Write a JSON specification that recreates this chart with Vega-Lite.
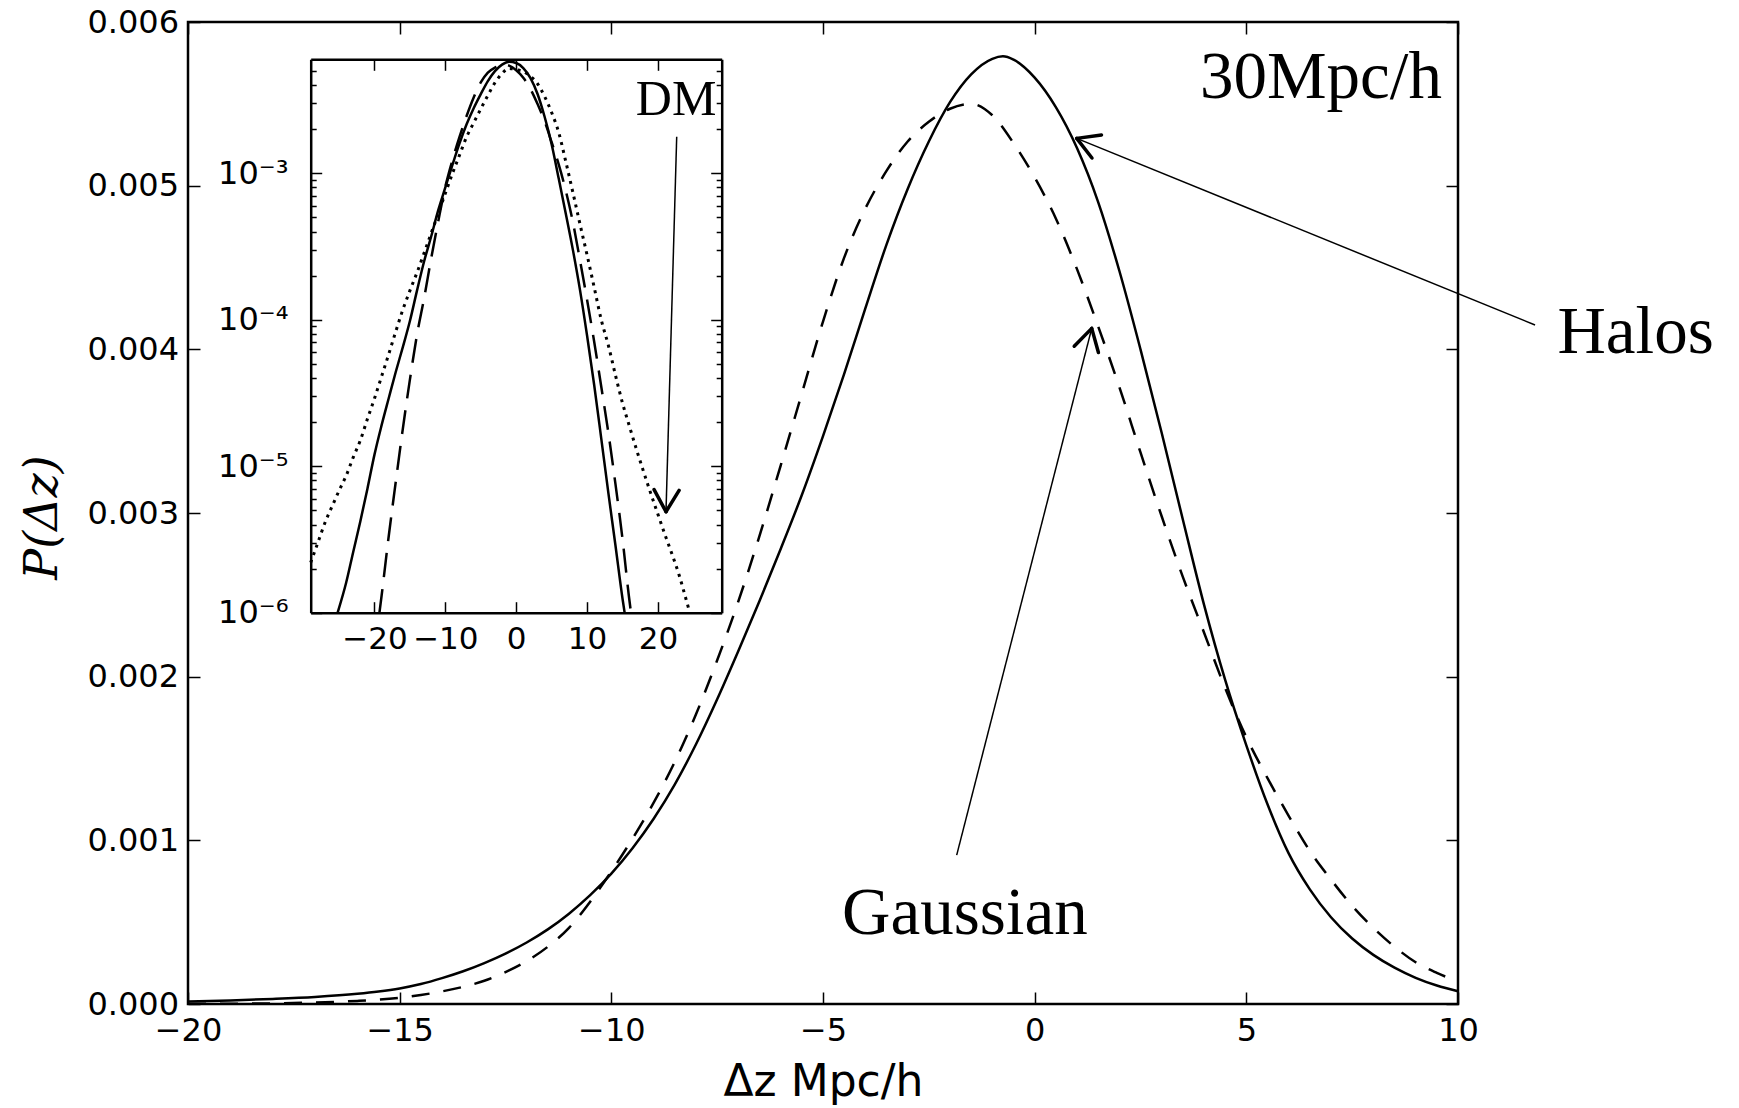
{
  "$schema": "https://vega.github.io/schema/vega-lite/v6.json",
  "width": 1270,
  "height": 982,
  "autosize": {"type": "none"},
  "padding": {"left": 188, "top": 22, "right": 281, "bottom": 104},
  "background": "white",
  "config": {
    "view": {"stroke": "black", "strokeWidth": 2.5},
    "font": "DejaVu Sans",
    "axis": {"grid": false, "tickColor": "black", "tickWidth": 1.5, "domainColor": "black", "domainWidth": 2.5, "labelColor": "black", "labelFont": "DejaVu Sans", "labelFlush": false, "labelOverlap": false, "titleColor": "black"}
  },
  "datasets": {
    "curves": [
      {"s":"mH","x":-20,"p":0.000015},{"s":"mH","x":-19,"p":0.000022},{"s":"mH","x":-18,"p":0.000031},{"s":"mH","x":-17,"p":0.000043},{"s":"mH","x":-16,"p":0.000062},{"s":"mH","x":-15.5,"p":0.000076},{"s":"mH","x":-15,"p":0.000095},{"s":"mH","x":-14.5,"p":0.000122},{"s":"mH","x":-14,"p":0.000158},{"s":"mH","x":-13.5,"p":0.000200},{"s":"mH","x":-13,"p":0.000250},{"s":"mH","x":-12.5,"p":0.000308},{"s":"mH","x":-12,"p":0.000376},{"s":"mH","x":-11.5,"p":0.000456},{"s":"mH","x":-11,"p":0.000552},{"s":"mH","x":-10.5,"p":0.000665},{"s":"mH","x":-10,"p":0.000797},{"s":"mH","x":-9.5,"p":0.000952},{"s":"mH","x":-9,"p":0.001132},{"s":"mH","x":-8.5,"p":0.001342},{"s":"mH","x":-8,"p":0.001587},{"s":"mH","x":-7.5,"p":0.001862},{"s":"mH","x":-7,"p":0.002157},{"s":"mH","x":-6.5,"p":0.002462},{"s":"mH","x":-6,"p":0.002780},{"s":"mH","x":-5.5,"p":0.003110},{"s":"mH","x":-5,"p":0.003470},{"s":"mH","x":-4.5,"p":0.003850},{"s":"mH","x":-4,"p":0.004250},{"s":"mH","x":-3.5,"p":0.004640},{"s":"mH","x":-3,"p":0.004980},{"s":"mH","x":-2.5,"p":0.005270},{"s":"mH","x":-2,"p":0.005510},{"s":"mH","x":-1.5,"p":0.005680},{"s":"mH","x":-1,"p":0.005775},{"s":"mH","x":-0.75,"p":0.005790},{"s":"mH","x":-0.5,"p":0.005770},{"s":"mH","x":0,"p":0.005660},{"s":"mH","x":0.5,"p":0.005480},{"s":"mH","x":1,"p":0.005230},{"s":"mH","x":1.5,"p":0.004900},{"s":"mH","x":2,"p":0.004480},{"s":"mH","x":2.5,"p":0.004000},{"s":"mH","x":3,"p":0.003490},{"s":"mH","x":3.5,"p":0.002960},{"s":"mH","x":4,"p":0.002440},{"s":"mH","x":4.5,"p":0.001980},{"s":"mH","x":5,"p":0.001580},{"s":"mH","x":5.5,"p":0.001220},{"s":"mH","x":6,"p":0.000920},{"s":"mH","x":6.5,"p":0.000700},{"s":"mH","x":7,"p":0.000530},{"s":"mH","x":7.5,"p":0.000400},{"s":"mH","x":8,"p":0.000300},{"s":"mH","x":8.5,"p":0.000222},{"s":"mH","x":9,"p":0.000160},{"s":"mH","x":9.5,"p":0.000113},{"s":"mH","x":10,"p":0.000078},
      {"s":"mG","x":-20,"p":0.000001},{"s":"mG","x":-19,"p":0.000002},{"s":"mG","x":-18,"p":0.000004},{"s":"mG","x":-17,"p":0.000009},{"s":"mG","x":-16,"p":0.000019},{"s":"mG","x":-15,"p":0.000038},{"s":"mG","x":-14.5,"p":0.000055},{"s":"mG","x":-14,"p":0.000077},{"s":"mG","x":-13.5,"p":0.000105},{"s":"mG","x":-13,"p":0.000142},{"s":"mG","x":-12.5,"p":0.000195},{"s":"mG","x":-12,"p":0.000262},{"s":"mG","x":-11.5,"p":0.000350},{"s":"mG","x":-11,"p":0.000465},{"s":"mG","x":-10.5,"p":0.000625},{"s":"mG","x":-10,"p":0.000810},{"s":"mG","x":-9.5,"p":0.001010},{"s":"mG","x":-9,"p":0.001230},{"s":"mG","x":-8.5,"p":0.001480},{"s":"mG","x":-8,"p":0.001770},{"s":"mG","x":-7.5,"p":0.002100},{"s":"mG","x":-7,"p":0.002460},{"s":"mG","x":-6.5,"p":0.002860},{"s":"mG","x":-6,"p":0.003290},{"s":"mG","x":-5.5,"p":0.003730},{"s":"mG","x":-5,"p":0.004170},{"s":"mG","x":-4.5,"p":0.004560},{"s":"mG","x":-4,"p":0.004860},{"s":"mG","x":-3.5,"p":0.005090},{"s":"mG","x":-3,"p":0.005270},{"s":"mG","x":-2.5,"p":0.005390},{"s":"mG","x":-2,"p":0.005470},{"s":"mG","x":-1.5,"p":0.005500},{"s":"mG","x":-1,"p":0.005430},{"s":"mG","x":-0.5,"p":0.005260},{"s":"mG","x":0,"p":0.005050},{"s":"mG","x":0.5,"p":0.004800},{"s":"mG","x":1,"p":0.004490},{"s":"mG","x":1.5,"p":0.004140},{"s":"mG","x":2,"p":0.003770},{"s":"mG","x":2.5,"p":0.003370},{"s":"mG","x":3,"p":0.002980},{"s":"mG","x":3.5,"p":0.002610},{"s":"mG","x":4,"p":0.002270},{"s":"mG","x":4.5,"p":0.001930},{"s":"mG","x":5,"p":0.001630},{"s":"mG","x":5.5,"p":0.001380},{"s":"mG","x":6,"p":0.001150},{"s":"mG","x":6.5,"p":0.000935},{"s":"mG","x":7,"p":0.000760},{"s":"mG","x":7.5,"p":0.000600},{"s":"mG","x":8,"p":0.000465},{"s":"mG","x":8.5,"p":0.000350},{"s":"mG","x":9,"p":0.000255},{"s":"mG","x":9.5,"p":0.000190},{"s":"mG","x":10,"p":0.000137},
      {"s":"iH","x":-25.2,"p":0.0000010},{"s":"iH","x":-24,"p":0.0000016},{"s":"iH","x":-23,"p":0.0000026},{"s":"iH","x":-22,"p":0.0000042},{"s":"iH","x":-21,"p":0.0000070},{"s":"iH","x":-20,"p":0.000012},{"s":"iH","x":-19,"p":0.000019},{"s":"iH","x":-18,"p":0.000029},{"s":"iH","x":-17,"p":0.000044},{"s":"iH","x":-16,"p":0.000065},{"s":"iH","x":-15,"p":0.000098},{"s":"iH","x":-14,"p":0.000158},{"s":"iH","x":-13,"p":0.00025},{"s":"iH","x":-12,"p":0.00037},{"s":"iH","x":-11,"p":0.00056},{"s":"iH","x":-10,"p":0.00080},{"s":"iH","x":-9,"p":0.00114},{"s":"iH","x":-8,"p":0.00160},{"s":"iH","x":-7,"p":0.00216},{"s":"iH","x":-6,"p":0.00278},{"s":"iH","x":-5,"p":0.00347},{"s":"iH","x":-4,"p":0.00426},{"s":"iH","x":-3,"p":0.00498},{"s":"iH","x":-2,"p":0.00552},{"s":"iH","x":-1,"p":0.00578},{"s":"iH","x":0,"p":0.00566},{"s":"iH","x":1,"p":0.00523},{"s":"iH","x":2,"p":0.00448},{"s":"iH","x":3,"p":0.00349},{"s":"iH","x":4,"p":0.00244},{"s":"iH","x":5,"p":0.00158},{"s":"iH","x":6,"p":0.00092},{"s":"iH","x":7,"p":0.00053},{"s":"iH","x":8,"p":0.00030},{"s":"iH","x":9,"p":0.00016},{"s":"iH","x":10,"p":0.000078},{"s":"iH","x":11,"p":0.000036},{"s":"iH","x":12,"p":0.0000155},{"s":"iH","x":13,"p":0.0000066},{"s":"iH","x":14,"p":0.0000029},{"s":"iH","x":15,"p":0.00000125},{"s":"iH","x":15.3,"p":0.0000010},
      {"s":"iG","x":-19.3,"p":0.0000010},{"s":"iG","x":-19,"p":0.0000013},{"s":"iG","x":-18,"p":0.0000033},{"s":"iG","x":-17,"p":0.0000078},{"s":"iG","x":-16,"p":0.000018},{"s":"iG","x":-15,"p":0.000039},{"s":"iG","x":-14,"p":0.000079},{"s":"iG","x":-13,"p":0.00014},{"s":"iG","x":-12,"p":0.000262},{"s":"iG","x":-11,"p":0.00047},{"s":"iG","x":-10,"p":0.00081},{"s":"iG","x":-9,"p":0.00123},{"s":"iG","x":-8,"p":0.00177},{"s":"iG","x":-7,"p":0.00246},{"s":"iG","x":-6,"p":0.00329},{"s":"iG","x":-5,"p":0.00417},{"s":"iG","x":-4,"p":0.00486},{"s":"iG","x":-3,"p":0.00527},{"s":"iG","x":-2,"p":0.00547},{"s":"iG","x":-1.5,"p":0.00550},{"s":"iG","x":-1,"p":0.00543},{"s":"iG","x":0,"p":0.00505},{"s":"iG","x":1,"p":0.00449},{"s":"iG","x":2,"p":0.00377},{"s":"iG","x":3,"p":0.00298},{"s":"iG","x":4,"p":0.00227},{"s":"iG","x":5,"p":0.00163},{"s":"iG","x":6,"p":0.00115},{"s":"iG","x":7,"p":0.00076},{"s":"iG","x":8,"p":0.000465},{"s":"iG","x":9,"p":0.000255},{"s":"iG","x":10,"p":0.000137},{"s":"iG","x":11,"p":0.000071},{"s":"iG","x":12,"p":0.000035},{"s":"iG","x":13,"p":0.000017},{"s":"iG","x":14,"p":0.0000076},{"s":"iG","x":15,"p":0.0000032},{"s":"iG","x":15.9,"p":0.0000013},{"s":"iG","x":16.2,"p":0.0000010},
      {"s":"iD","x":-29,"p":0.0000022},{"s":"iD","x":-28,"p":0.0000030},{"s":"iD","x":-27,"p":0.0000041},{"s":"iD","x":-26,"p":0.0000053},{"s":"iD","x":-25,"p":0.0000068},{"s":"iD","x":-24,"p":0.0000086},{"s":"iD","x":-23,"p":0.0000115},{"s":"iD","x":-22,"p":0.000015},{"s":"iD","x":-21,"p":0.000021},{"s":"iD","x":-20,"p":0.000029},{"s":"iD","x":-19,"p":0.000041},{"s":"iD","x":-18,"p":0.000058},{"s":"iD","x":-17,"p":0.000083},{"s":"iD","x":-16,"p":0.000117},{"s":"iD","x":-15,"p":0.000158},{"s":"iD","x":-14,"p":0.00021},{"s":"iD","x":-13,"p":0.000285},{"s":"iD","x":-12,"p":0.00039},{"s":"iD","x":-11,"p":0.00053},{"s":"iD","x":-10,"p":0.00073},{"s":"iD","x":-9,"p":0.000995},{"s":"iD","x":-8,"p":0.00133},{"s":"iD","x":-7,"p":0.00177},{"s":"iD","x":-6,"p":0.00221},{"s":"iD","x":-5,"p":0.00275},{"s":"iD","x":-4,"p":0.0034},{"s":"iD","x":-3,"p":0.00415},{"s":"iD","x":-2,"p":0.0048},{"s":"iD","x":-1,"p":0.0052},{"s":"iD","x":0,"p":0.0051},{"s":"iD","x":1,"p":0.00495},{"s":"iD","x":2,"p":0.0046},{"s":"iD","x":3,"p":0.0041},{"s":"iD","x":4,"p":0.00335},{"s":"iD","x":5,"p":0.0026},{"s":"iD","x":6,"p":0.0019},{"s":"iD","x":7,"p":0.0012},{"s":"iD","x":8,"p":0.00074},{"s":"iD","x":9,"p":0.00045},{"s":"iD","x":10,"p":0.000277},{"s":"iD","x":11,"p":0.000167},{"s":"iD","x":12,"p":0.0001},{"s":"iD","x":13,"p":0.000067},{"s":"iD","x":14,"p":0.000042},{"s":"iD","x":15,"p":0.000027},{"s":"iD","x":16,"p":0.0000186},{"s":"iD","x":17,"p":0.0000129},{"s":"iD","x":18,"p":0.0000091},{"s":"iD","x":19,"p":0.0000065},{"s":"iD","x":20,"p":0.0000047},{"s":"iD","x":21,"p":0.0000034},{"s":"iD","x":22,"p":0.0000025},{"s":"iD","x":23,"p":0.0000018},{"s":"iD","x":24,"p":0.00000122},{"s":"iD","x":24.5,"p":0.0000010}
    ],
    "arrows": [
      {"g":"main","w":"shaft","x":0.993,"p":0.005289,"x2":11.82,"p2":0.004149},
      {"g":"main","w":"head","x":0.993,"p":0.005289,"x2":1.579,"p2":0.005310},
      {"g":"main","w":"head","x":0.993,"p":0.005289,"x2":1.354,"p2":0.005169},
      {"g":"main","w":"shaft","x":1.348,"p":0.004128,"x2":-1.842,"p2":0.000910},
      {"g":"main","w":"head","x":1.348,"p":0.004128,"x2":0.934,"p2":0.004019},
      {"g":"main","w":"head","x":1.348,"p":0.004128,"x2":1.506,"p2":0.003981},
      {"g":"inset","w":"shaft","x":21.14,"p":0.00000489,"x2":22.65,"p2":0.001778},
      {"g":"inset","w":"head","x":21.14,"p":0.00000489,"x2":22.99,"p2":0.00000684},
      {"g":"inset","w":"head","x":21.14,"p":0.00000489,"x2":19.46,"p2":0.00000692}
    ],
    "texts": [
      {"g":"main","t":"30Mpc/h","x":6.762,"p":0.005536},
      {"g":"main","t":"Halos","x":14.196,"p":0.003978},
      {"g":"main","t":"Gaussian","x":-1.648,"p":0.000426},
      {"g":"inset","t":"DM","x":22.57,"p":0.0025}
    ]
  },
  "resolve": {"scale": {"x": "independent", "y": "independent"}, "axis": {"x": "independent", "y": "independent"}},
  "layer": [
    {
      "data": {"name": "curves"},
      "transform": [{"filter": "datum.s == 'mH'"}],
      "mark": {"type": "line", "color": "black", "strokeWidth": 2.5, "interpolate": "monotone"},
      "encoding": {
        "x": {"field": "x", "type": "quantitative", "scale": {"domain": [-20, 10], "nice": false, "zero": false},
          "axis": {"orient": "bottom", "values": [-20, -15, -10, -5, 0, 5, 10], "domain": false, "tickSize": -12, "labelFontSize": 32, "labelPadding": 23, "title": "Δz Mpc/h", "titleFont": "DejaVu Sans", "titleFontSize": 44, "titleFontWeight": "normal", "titleBaseline": "alphabetic", "titleY": 91}},
        "y": {"field": "p", "type": "quantitative", "scale": {"domain": [0, 0.006], "nice": false, "zero": false},
          "axis": {"orient": "left", "values": [0, 0.001, 0.002, 0.003, 0.004, 0.005, 0.006], "format": ".3f", "domain": false, "tickSize": -12, "labelFontSize": 32, "labelPadding": 21.5, "title": "P(Δz)", "titleFont": "DejaVu Serif", "titleFontStyle": "italic", "titleFontSize": 46, "titleFontWeight": "normal", "titleBaseline": "alphabetic", "titleAngle": 270, "titleX": -132, "titleY": 495}}
      }
    },
    {
      "data": {"name": "curves"},
      "transform": [{"filter": "datum.s == 'mG'"}],
      "mark": {"type": "line", "color": "black", "strokeWidth": 2.5, "strokeDash": [18, 14], "interpolate": "monotone"},
      "encoding": {
        "x": {"field": "x", "type": "quantitative", "scale": {"domain": [-20, 10], "nice": false, "zero": false},
          "axis": {"orient": "top", "values": [-20, -15, -10, -5, 0, 5, 10], "domain": false, "labels": false, "tickSize": -12, "title": null}},
        "y": {"field": "p", "type": "quantitative", "scale": {"domain": [0, 0.006], "nice": false, "zero": false},
          "axis": {"orient": "right", "values": [0, 0.001, 0.002, 0.003, 0.004, 0.005, 0.006], "domain": false, "labels": false, "tickSize": -12, "title": null}}
      }
    },
    {
      "data": {"name": "texts"},
      "transform": [{"filter": "datum.g == 'main'"}],
      "mark": {"type": "text", "font": "Liberation Serif", "fontSize": 67, "align": "center", "baseline": "alphabetic", "color": "black"},
      "encoding": {
        "x": {"field": "x", "type": "quantitative", "scale": {"domain": [-20, 10], "nice": false, "zero": false}, "axis": null},
        "y": {"field": "p", "type": "quantitative", "scale": {"domain": [0, 0.006], "nice": false, "zero": false}, "axis": null},
        "text": {"field": "t"}
      }
    },
    {
      "data": {"name": "arrows"},
      "transform": [{"filter": "datum.g == 'main' && datum.w == 'shaft'"}],
      "mark": {"type": "rule", "color": "black", "strokeWidth": 1.5},
      "encoding": {
        "x": {"field": "x", "type": "quantitative", "scale": {"domain": [-20, 10], "nice": false, "zero": false}, "axis": null},
        "y": {"field": "p", "type": "quantitative", "scale": {"domain": [0, 0.006], "nice": false, "zero": false}, "axis": null},
        "x2": {"field": "x2"},
        "y2": {"field": "p2"}
      }
    },
    {
      "data": {"name": "arrows"},
      "transform": [{"filter": "datum.g == 'main' && datum.w == 'head'"}],
      "mark": {"type": "rule", "color": "black", "strokeWidth": 3.5, "strokeCap": "round"},
      "encoding": {
        "x": {"field": "x", "type": "quantitative", "scale": {"domain": [-20, 10], "nice": false, "zero": false}, "axis": null},
        "y": {"field": "p", "type": "quantitative", "scale": {"domain": [0, 0.006], "nice": false, "zero": false}, "axis": null},
        "x2": {"field": "x2"},
        "y2": {"field": "p2"}
      }
    },
    {
      "data": {"name": "curves"},
      "transform": [{"filter": "datum.s == 'iH'"}],
      "mark": {"type": "line", "color": "black", "strokeWidth": 2.5, "interpolate": "monotone"},
      "encoding": {
        "x": {"field": "x", "type": "quantitative", "scale": {"domain": [-29, 29], "range": [122.7, 533.7], "nice": false, "zero": false},
          "axis": {"orient": "bottom", "offset": -391.3, "values": [-20, -10, 0, 10, 20], "domain": true, "tickSize": -11, "labelFontSize": 31, "labelPadding": 23, "title": null}},
        "y": {"field": "p", "type": "quantitative", "scale": {"type": "log", "domain": [0.000001, 0.006], "range": [590.7, 37.3], "nice": false},
          "axis": {"orient": "left", "offset": -122.7, "values": [0.000001, 0.00001, 0.0001, 0.001], "labelExpr": "'10' + ['⁻⁶','⁻⁵','⁻⁴','⁻³'][round(log(datum.value)/LN10) + 6]", "domain": true, "tickSize": -11, "labelFontSize": 32, "labelPadding": 33.7, "title": null}}
      }
    },
    {
      "data": {"name": "curves"},
      "transform": [{"filter": "datum.s == 'iG'"}],
      "mark": {"type": "line", "color": "black", "strokeWidth": 2.5, "strokeDash": [24, 12], "interpolate": "monotone"},
      "encoding": {
        "x": {"field": "x", "type": "quantitative", "scale": {"domain": [-29, 29], "range": [122.7, 533.7], "nice": false, "zero": false},
          "axis": {"orient": "top", "offset": -37.3, "values": [-20, -10, 0, 10, 20], "domain": true, "labels": false, "tickSize": -11, "title": null}},
        "y": {"field": "p", "type": "quantitative", "scale": {"type": "log", "domain": [0.000001, 0.006], "range": [590.7, 37.3], "nice": false},
          "axis": {"orient": "right", "offset": -736.3, "values": [0.000001, 0.00001, 0.0001, 0.001], "domain": true, "labels": false, "tickSize": -11, "title": null}}
      }
    },
    {
      "data": {"name": "curves"},
      "transform": [{"filter": "datum.s == 'iD'"}],
      "mark": {"type": "line", "color": "black", "strokeWidth": 3, "strokeDash": [3, 5], "interpolate": "monotone"},
      "encoding": {
        "x": {"field": "x", "type": "quantitative", "scale": {"domain": [-29, 29], "range": [122.7, 533.7], "nice": false, "zero": false}, "axis": null},
        "y": {"field": "p", "type": "quantitative", "scale": {"type": "log", "domain": [0.000001, 0.006], "range": [590.7, 37.3], "nice": false},
          "axis": {"orient": "left", "offset": -122.7, "values": [0.000002, 0.000003, 0.000004, 0.000005, 0.000006, 0.000007, 0.000008, 0.000009, 0.00002, 0.00003, 0.00004, 0.00005, 0.00006, 0.00007, 0.00008, 0.00009, 0.0002, 0.0003, 0.0004, 0.0005, 0.0006, 0.0007, 0.0008, 0.0009, 0.002, 0.003, 0.004, 0.005], "domain": false, "labels": false, "tickSize": -5.5, "title": null}}
      }
    },
    {
      "data": {"name": "texts"},
      "transform": [{"filter": "datum.g == 'inset'"}],
      "mark": {"type": "text", "font": "Liberation Serif", "fontSize": 50, "align": "center", "baseline": "alphabetic", "color": "black"},
      "encoding": {
        "x": {"field": "x", "type": "quantitative", "scale": {"domain": [-29, 29], "range": [122.7, 533.7], "nice": false, "zero": false}, "axis": null},
        "y": {"field": "p", "type": "quantitative", "scale": {"type": "log", "domain": [0.000001, 0.006], "range": [590.7, 37.3], "nice": false},
          "axis": {"orient": "right", "offset": -736.3, "values": [0.000002, 0.000003, 0.000004, 0.000005, 0.000006, 0.000007, 0.000008, 0.000009, 0.00002, 0.00003, 0.00004, 0.00005, 0.00006, 0.00007, 0.00008, 0.00009, 0.0002, 0.0003, 0.0004, 0.0005, 0.0006, 0.0007, 0.0008, 0.0009, 0.002, 0.003, 0.004, 0.005], "domain": false, "labels": false, "tickSize": -5.5, "title": null}},
        "text": {"field": "t"}
      }
    },
    {
      "data": {"name": "arrows"},
      "transform": [{"filter": "datum.g == 'inset' && datum.w == 'shaft'"}],
      "mark": {"type": "rule", "color": "black", "strokeWidth": 1.5},
      "encoding": {
        "x": {"field": "x", "type": "quantitative", "scale": {"domain": [-29, 29], "range": [122.7, 533.7], "nice": false, "zero": false}, "axis": null},
        "y": {"field": "p", "type": "quantitative", "scale": {"type": "log", "domain": [0.000001, 0.006], "range": [590.7, 37.3], "nice": false}, "axis": null},
        "x2": {"field": "x2"},
        "y2": {"field": "p2"}
      }
    },
    {
      "data": {"name": "arrows"},
      "transform": [{"filter": "datum.g == 'inset' && datum.w == 'head'"}],
      "mark": {"type": "rule", "color": "black", "strokeWidth": 3.5, "strokeCap": "round"},
      "encoding": {
        "x": {"field": "x", "type": "quantitative", "scale": {"domain": [-29, 29], "range": [122.7, 533.7], "nice": false, "zero": false}, "axis": null},
        "y": {"field": "p", "type": "quantitative", "scale": {"type": "log", "domain": [0.000001, 0.006], "range": [590.7, 37.3], "nice": false}, "axis": null},
        "x2": {"field": "x2"},
        "y2": {"field": "p2"}
      }
    }
  ]
}
